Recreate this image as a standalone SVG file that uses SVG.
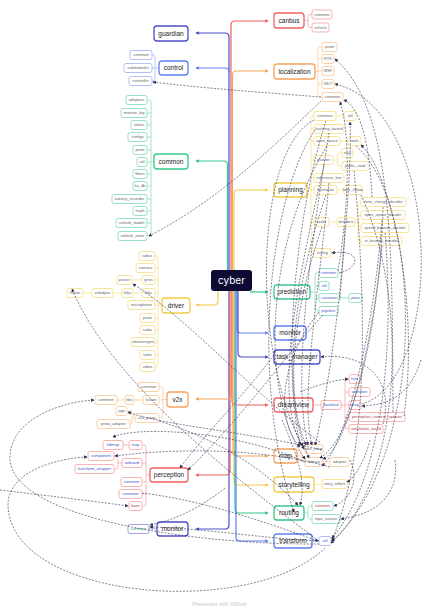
<svg xmlns="http://www.w3.org/2000/svg" width="437" height="612" viewBox="0 0 437 612">
<defs>
<style>
.mb{fill:#fff;stroke-width:1.3}
.cb{fill:#fff;stroke-width:0.8}
.mt{font-family:"Liberation Sans",Arial,sans-serif;font-size:6.5px;fill:#222;text-anchor:middle}
.ct{font-family:"Liberation Sans",Arial,sans-serif;font-size:4px;fill:#666;text-anchor:middle}
.bt{fill:#4455cc}
.rd{stroke:#f26060}.rdl{stroke:#f7a0a0}
.or{stroke:#f8a35c}.orl{stroke:#fbc592}
.ye{stroke:#f4cc48}.yel{stroke:#f7dc80}
.gr{stroke:#34c98a}.grl{stroke:#7fdcb3}
.bl{stroke:#5f7ff5}.bll{stroke:#9db0f8}
.in{stroke:#4e4ec8}.inl{stroke:#8b8bdc}
.tr{fill:none;stroke-width:1.2}
.br{fill:none;stroke-width:0.7}
.d{fill:none;stroke:#2f2f50;stroke-width:0.6;stroke-dasharray:2 1.4;marker-end:url(#ad)}
</style>
<marker id="ad" viewBox="0 0 6 6" refX="5" refY="3" markerWidth="3.5" markerHeight="3.5" orient="auto" markerUnits="userSpaceOnUse"><path d="M0,0 L6,3 L0,6 z" fill="#2f2f50"/></marker>
<marker id="mrd" viewBox="0 0 6 6" refX="5" refY="3" markerWidth="4" markerHeight="4" orient="auto" markerUnits="userSpaceOnUse"><path d="M0,0 L6,3 L0,6 z" fill="#f26060"/></marker>
<marker id="mor" viewBox="0 0 6 6" refX="5" refY="3" markerWidth="4" markerHeight="4" orient="auto" markerUnits="userSpaceOnUse"><path d="M0,0 L6,3 L0,6 z" fill="#f8a35c"/></marker>
<marker id="mye" viewBox="0 0 6 6" refX="5" refY="3" markerWidth="4" markerHeight="4" orient="auto" markerUnits="userSpaceOnUse"><path d="M0,0 L6,3 L0,6 z" fill="#f4cc48"/></marker>
<marker id="mgr" viewBox="0 0 6 6" refX="5" refY="3" markerWidth="4" markerHeight="4" orient="auto" markerUnits="userSpaceOnUse"><path d="M0,0 L6,3 L0,6 z" fill="#34c98a"/></marker>
<marker id="mbl" viewBox="0 0 6 6" refX="5" refY="3" markerWidth="4" markerHeight="4" orient="auto" markerUnits="userSpaceOnUse"><path d="M0,0 L6,3 L0,6 z" fill="#5f7ff5"/></marker>
<marker id="min" viewBox="0 0 6 6" refX="5" refY="3" markerWidth="4" markerHeight="4" orient="auto" markerUnits="userSpaceOnUse"><path d="M0,0 L6,3 L0,6 z" fill="#4e4ec8"/></marker>
</defs>
<rect width="437" height="612" fill="#fff"/>

<g id="trunk">
<path class="tr gr" marker-end="url(#mgr)" d="M227.5 270 V165 Q227.5 161 223.5 161 H196"/>
<path class="tr bl" marker-end="url(#min)" d="M229 270 V37 Q229 33 225 33 H196" style="stroke:#4e4ec8"/>
<path class="tr bl" marker-end="url(#mbl)" d="M229 72 Q229 68 225 68 H196"/>
<path class="tr rd" marker-end="url(#mrd)" d="M231 270 V25 Q231 21 235 21 H268"/>
<path class="tr or" marker-end="url(#mor)" d="M232.5 270 V75 Q232.5 71 236.5 71 H268"/>
<path class="tr ye" marker-end="url(#mye)" d="M234 270 V194 Q234 190 238 190 H268"/>
<path class="tr ye" marker-end="url(#mye)" d="M218 291 V301 Q218 305 214 305 H196"/>
<path class="tr gr" marker-end="url(#mgr)" d="M250 292 H268"/>
<path class="tr in" marker-end="url(#min)" d="M229 291 V525 Q229 529 225 529 H196"/>
<path class="tr rd" marker-end="url(#mrd)" d="M230 291 V471 Q230 475 226 475 H196"/>
<path class="tr or" marker-end="url(#mor)" d="M231 291 V395 Q231 399 227 399 H196"/>
<path class="tr rd" marker-end="url(#mrd)" d="M232 291 V401 Q232 405 236 405 H268"/>
<path class="tr or" marker-end="url(#mor)" d="M233 291 V452 Q233 456 237 456 H268"/>
<path class="tr ye" marker-end="url(#mye)" d="M234 291 V481 Q234 485 238 485 H268"/>
<path class="tr gr" marker-end="url(#mgr)" d="M235 291 V509 Q235 513 239 513 H268"/>
<path class="tr bl" marker-end="url(#mbl)" d="M236 291 V537 Q236 541 240 541 H268"/>
<path class="tr bl" marker-end="url(#mbl)" d="M237 291 V329 Q237 333 241 333 H268"/>
<path class="tr in" marker-end="url(#min)" d="M238 291 V353 Q238 357 242 357 H268"/>
</g>

<g id="cyber"><rect x="211" y="270" width="41" height="21" rx="3" fill="#0d0b33"/><text x="231.5" y="284" font-family="Inter,'Liberation Sans',sans-serif" font-size="10" fill="#fff" text-anchor="middle">cyber</text></g>

<g id="guardian"><rect class="mb in" x="154" y="26" width="34" height="15" rx="3"/><text class="mt" x="171" y="35.8">guardian</text></g>

<g id="control">
<path class="br bll" d="M159 68 H155 M152 55 H153 Q155 55 155 57 V79 Q155 81 153 81 H152 M155 68 H152"/>
<rect class="mb bl" x="159" y="61" width="29" height="14" rx="3"/><text class="mt" x="173.5" y="70.3">control</text>
<rect class="cb bll" x="130" y="50.5" width="22" height="9" rx="2"/><text class="ct" x="141" y="56.4">common</text>
<rect class="cb bll" x="124" y="63.5" width="28" height="9" rx="2"/><text class="ct" x="138" y="69.4">submodules</text>
<rect class="cb bll" x="129" y="76.5" width="23" height="9" rx="2"/><text class="ct" x="140.5" y="82.4">controller</text>
</g>

<g id="common">
<path class="br grl" d="M154 161.5 H151 M147 100 H149 Q151 100 151 102 V234 Q151 236 149 236 H147 M151 113 H147 M151 125 H147 M151 137 H147 M151 150 H147 M151 162 H147 M151 174 H147 M151 186 H147 M151 199 H147 M151 211 H147 M151 223 H147"/>
<rect class="mb gr" x="154" y="154" width="34" height="15" rx="3"/><text class="mt" x="171" y="163.8">common</text>
<rect class="cb grl" x="126" y="95.5" width="21" height="9" rx="2"/><text class="ct" x="136.5" y="101.4">adapters</text>
<rect class="cb grl" x="121" y="108.5" width="26" height="9" rx="2"/><text class="ct" x="134" y="114.4">monitor_log</text>
<rect class="cb grl" x="131" y="120.5" width="16" height="9" rx="2"/><text class="ct" x="139" y="126.4">status</text>
<rect class="cb grl" x="128" y="132.5" width="19" height="9" rx="2"/><text class="ct" x="137.5" y="138.4">configs</text>
<rect class="cb grl" x="133" y="145.5" width="14" height="9" rx="2"/><text class="ct" x="140" y="151.4">proto</text>
<rect class="cb grl" x="137" y="157.5" width="10" height="9" rx="2"/><text class="ct" x="142" y="163.4">util</text>
<rect class="cb grl" x="133" y="169.5" width="14" height="9" rx="2"/><text class="ct" x="140" y="175.4">filters</text>
<rect class="cb grl" x="133" y="181.5" width="14" height="9" rx="2"/><text class="ct" x="140" y="187.4">kv_db</text>
<rect class="cb grl" x="112" y="194.5" width="35" height="9" rx="2"/><text class="ct" x="129.5" y="200.4">latency_recorder</text>
<rect class="cb grl" x="133" y="206.5" width="14" height="9" rx="2"/><text class="ct" x="140" y="212.4">math</text>
<rect class="cb grl" x="116" y="218.5" width="31" height="9" rx="2"/><text class="ct" x="131.5" y="224.4">vehicle_model</text>
<rect class="cb grl" x="118" y="231.5" width="29" height="9" rx="2"/><text class="ct" x="132.5" y="237.4">vehicle_state</text>
</g>

<g id="driver">
<path class="br yel" d="M162 305.5 H158 M155 256 H156 Q158 256 158 258 V365 Q158 367 156 367 H155 M158 268 H155 M158 280 H155 M158 293 H155 M158 305 H155 M158 318 H155 M158 330 H155 M158 342 H155 M158 355 H155 M142 280 H132 M142 293 H133 M122 293 H113 M92 293 H83"/>
<rect class="mb ye" x="162" y="298" width="28" height="15" rx="3"/><text class="mt" x="176" y="307.8">driver</text>
<rect class="cb yel" x="139" y="251.5" width="16" height="9" rx="2"/><text class="ct" x="147" y="257.4">cabus</text>
<rect class="cb yel" x="136" y="263.5" width="19" height="9" rx="2"/><text class="ct" x="145.5" y="269.4">camera</text>
<rect class="cb yel" x="142" y="275.5" width="13" height="9" rx="2"/><text class="ct" x="148.5" y="281.4">gnss</text>
<rect class="cb yel" x="142" y="288.5" width="13" height="9" rx="2"/><text class="ct" x="148.5" y="294.4">lidar</text>
<rect class="cb yel" x="128" y="300.5" width="27" height="9" rx="2"/><text class="ct" x="141.5" y="306.4">microphone</text>
<rect class="cb yel" x="140" y="313.5" width="15" height="9" rx="2"/><text class="ct" x="147.5" y="319.4">proto</text>
<rect class="cb yel" x="140" y="325.5" width="15" height="9" rx="2"/><text class="ct" x="147.5" y="331.4">radar</text>
<rect class="cb yel" x="131" y="337.5" width="24" height="9" rx="2"/><text class="ct" x="143" y="343.4">smartereyes</text>
<rect class="cb yel" x="140" y="350.5" width="15" height="9" rx="2"/><text class="ct" x="147.5" y="356.4">tools</text>
<rect class="cb yel" x="140" y="362.5" width="15" height="9" rx="2"/><text class="ct" x="147.5" y="368.4">video</text>
<rect class="cb yel" x="117" y="275.5" width="15" height="9" rx="2"/><text class="ct" x="124.5" y="281.4">parser</text>
<rect class="cb yel" x="122" y="288.5" width="11" height="9" rx="2"/><text class="ct" x="127.5" y="294.4">lidar</text>
<rect class="cb yel" x="92" y="288.5" width="21" height="9" rx="2"/><text class="ct" x="102.5" y="294.4">velodyne</text>
<rect class="cb yel" x="67" y="288.5" width="16" height="9" rx="2"/><text class="ct" x="75" y="294.4">fusion</text>
</g>

<g id="v2x">
<path class="br orl" d="M167 399.5 H163 M159 387 H161 Q163 387 163 389 V416 Q163 418 161 418 H159 M163 400 H159 M143 400 H134 M125 400 H117 M135 418 H132 M130 411 H130 Q132 411 132 413 V422 Q132 424 130 424 M132 411 H127"/>
<rect class="mb or" x="167" y="392" width="21" height="15" rx="3"/><text class="mt" x="177.5" y="401.8">v2x</text>
<rect class="cb orl" x="138" y="382.5" width="21" height="9" rx="2"/><text class="ct" x="148.5" y="388.4">common</text>
<rect class="cb orl" x="143" y="395.5" width="16" height="9" rx="2"/><text class="ct" x="151" y="401.4">fusion</text>
<rect class="cb orl" x="135" y="413.5" width="24" height="9" rx="2"/><text class="ct" x="147" y="419.4">v2x_proxy</text>
<rect class="cb orl" x="125" y="395.5" width="9" height="9" rx="2"/><text class="ct" x="129.5" y="401.4">libs</text>
<rect class="cb orl" x="95" y="395.5" width="22" height="9" rx="2"/><text class="ct" x="106" y="401.4">common</text>
<rect class="cb orl" x="116" y="406.5" width="11" height="9" rx="2"/><text class="ct" x="121.5" y="412.4">app</text>
<rect class="cb orl" x="97" y="419.5" width="33" height="9" rx="2"/><text class="ct" x="113.5" y="425.4">proto_adapter</text>
</g>

<g id="perception">
<path class="br rdl" d="M150 475 H146 M142 445 H144 Q146 445 146 447 V504 Q146 506 144 506 H142 M146 463 H142 M146 482 H142 M146 494 H142 M129 445 H123 M122 463 H118 M114 456 H116 Q118 456 118 458 V467 Q118 469 116 469 H114"/>
<rect class="mb rd" x="150" y="468" width="38" height="14" rx="3"/><text class="mt" x="169" y="477.3">perception</text>
<rect class="cb rdl" x="129" y="440.5" width="13" height="9" rx="2"/><text class="ct bt" x="135.5" y="446.4">map</text>
<rect class="cb rdl" x="103" y="440.5" width="20" height="9" rx="2"/><text class="ct bt" x="113" y="446.4">hdmap</text>
<rect class="cb rdl" x="122" y="458.5" width="20" height="9" rx="2"/><text class="ct bt" x="132" y="464.4">onboard</text>
<rect class="cb rdl" x="88" y="451.5" width="26" height="9" rx="2"/><text class="ct bt" x="101" y="457.4">component</text>
<rect class="cb rdl" x="75" y="464.5" width="39" height="9" rx="2"/><text class="ct bt" x="94.5" y="470.4">transform_wrapper</text>
<rect class="cb rdl" x="121" y="477.5" width="21" height="9" rx="2"/><text class="ct bt" x="131.5" y="483.4">common</text>
<rect class="cb rdl" x="119" y="489.5" width="23" height="9" rx="2"/><text class="ct bt" x="130.5" y="495.4">container</text>
<rect class="cb rdl" x="129" y="501.5" width="13" height="9" rx="2"/><text class="ct" x="135.5" y="507.4" style="fill:#b04040">base</text>
</g>

<g id="monitor_left">
<path class="br inl" d="M157 529 H149"/>
<rect class="mb in" x="157" y="522" width="31" height="14" rx="3"/><text class="mt" x="172.5" y="531.3">monitor</text>
<rect class="cb inl" x="128" y="524.5" width="21" height="9" rx="2"/><text class="ct" x="138.5" y="530.4" style="fill:#2ea86f">common</text>
</g>

<g id="canbus">
<path class="br rdl" d="M304 20.5 H308 M312 14.5 H310 Q308 14.5 308 16.5 V25.5 Q308 27.5 310 27.5 H312"/>
<rect class="mb rd" x="274" y="13" width="30" height="15" rx="3"/><text class="mt" x="289" y="22.8">canbus</text>
<rect class="cb rdl" x="312" y="10" width="20" height="9" rx="2"/><text class="ct" x="322" y="15.9">common</text>
<rect class="cb rdl" x="312" y="23" width="17" height="9" rx="2"/><text class="ct" x="320.5" y="28.9">vehicle</text>
</g>

<g id="localization">
<path class="br orl" d="M315 71.5 H318 M322 47 H320 Q318 47 318 49 V95 Q318 97 320 97 H322 M318 59 H322 M318 71 H322 M318 84 H322"/>
<rect class="mb or" x="274" y="64" width="41" height="15" rx="3"/><text class="mt" x="294.5" y="73.8">localization</text>
<rect class="cb orl" x="322" y="42.5" width="15" height="9" rx="2"/><text class="ct" x="329.5" y="48.4">proto</text>
<rect class="cb orl" x="322" y="54.5" width="12" height="9" rx="2"/><text class="ct" x="328" y="60.4">RTK</text>
<rect class="cb orl" x="322" y="66.5" width="12" height="9" rx="2"/><text class="ct" x="328" y="72.4">MSF</text>
<rect class="cb orl" x="322" y="79.5" width="12" height="9" rx="2"/><text class="ct" x="328" y="85.4">NDT</text>
<rect class="cb orl" x="322" y="92.5" width="21" height="9" rx="2"/><text class="ct" x="332.5" y="98.4">common</text>
</g>

<g id="planning">
<path class="br yel" d="M307 190 H311 M314 116 H313 Q311 116 311 118 V251 Q311 253 313 253 H314 M311 129 H314 M311 141 H314 M311 160 H314 M311 178 H314 M311 190 H314 M311 222 H314 M336 116 H344 M340 141 H348 M333 160 H337.5 M342 153 H339.5 Q337.5 153 337.5 155 V164 Q337.5 166 339.5 166 H342 M337 190 H344 M329 222 H337 M355 222 H358 M361 202 H360 Q358 202 358 204 V239 Q358 241 360 241 H361 M358 215 H361 M358 228 H361"/>
<rect class="mb ye" x="274" y="183" width="33" height="14" rx="3"/><text class="mt" x="290.5" y="192.3">planning</text>
<rect class="cb yel" x="314" y="111.5" width="22" height="9" rx="2"/><text class="ct" x="325" y="117.4">common</text>
<rect class="cb yel" x="344" y="111.5" width="12" height="9" rx="2"/><text class="ct" x="350" y="117.4">util</text>
<rect class="cb yel" x="314" y="124.5" width="30" height="9" rx="2"/><text class="ct" x="329" y="130.4">learning_based</text>
<rect class="cb yel" x="314" y="136.5" width="26" height="9" rx="2"/><text class="ct" x="327" y="142.4">open_space</text>
<rect class="cb yel" x="348" y="136.5" width="13" height="9" rx="2"/><text class="ct" x="354.5" y="142.4">tools</text>
<rect class="cb yel" x="314" y="155.5" width="19" height="9" rx="2"/><text class="ct" x="323.5" y="161.4">planner</text>
<rect class="cb yel" x="342" y="148.5" width="11" height="9" rx="2"/><text class="ct" x="347.5" y="154.4">navi</text>
<rect class="cb yel" x="342" y="161.5" width="26" height="9" rx="2"/><text class="ct" x="355" y="167.4">public_road</text>
<rect class="cb yel" x="314" y="173.5" width="30" height="9" rx="2"/><text class="ct" x="329" y="179.4">reference_line</text>
<rect class="cb yel" x="314" y="185.5" width="23" height="9" rx="2"/><text class="ct" x="325.5" y="191.4">scenarios</text>
<rect class="cb yel" x="344" y="185.5" width="18" height="9" rx="2"/><text class="ct" x="353" y="191.4">lane_follow</text>
<rect class="cb yel" x="314" y="217.5" width="15" height="9" rx="2"/><text class="ct" x="321.5" y="223.4">tasks</text>
<rect class="cb yel" x="337" y="217.5" width="18" height="9" rx="2"/><text class="ct" x="346" y="223.4">deciders</text>
<rect class="cb yel" x="361" y="197.5" width="45" height="9" rx="2"/><text class="ct" x="383.5" y="203.4">lane_change_decider</text>
<rect class="cb yel" x="361" y="210.5" width="44" height="9" rx="2"/><text class="ct" x="383" y="216.4">open_space_decider</text>
<rect class="cb yel" x="361" y="223.5" width="48" height="9" rx="2"/><text class="ct" x="385" y="229.4">speed_bounds_decider</text>
<rect class="cb yel" x="361" y="236.5" width="41" height="9" rx="2"/><text class="ct" x="381.5" y="242.4">st_bounds_decider</text>
<rect class="cb yel" x="314" y="248.5" width="17" height="9" rx="2"/><text class="ct" x="322.5" y="254.4">tuning</text>
</g>

<g id="prediction">
<path class="br grl" d="M310 292 H315 M319 273 H317 Q315 273 315 275 V309 Q315 311 317 311 H319 M315 286 H319 M315 298 H319 M340 298 H349"/>
<rect class="mb gr" x="274" y="285" width="36" height="14" rx="3"/><text class="mt" x="292" y="294.3">prediction</text>
<rect class="cb grl" x="319" y="268.5" width="19" height="9" rx="2"/><text class="ct bt" x="328.5" y="274.4">common</text>
<rect class="cb grl" x="319" y="281.5" width="10" height="9" rx="2"/><text class="ct bt" x="324" y="287.4">util</text>
<rect class="cb grl" x="319" y="293.5" width="21" height="9" rx="2"/><text class="ct bt" x="329.5" y="299.4">container</text>
<rect class="cb grl" x="349" y="293.5" width="13" height="9" rx="2"/><text class="ct bt" x="355.5" y="299.4">pose</text>
<rect class="cb grl" x="319" y="306.5" width="19" height="9" rx="2"/><text class="ct bt" x="328.5" y="312.4">pipeline</text>
</g>

<g id="monitor_right"><rect class="mb bl" x="274" y="326" width="32" height="14" rx="3"/><text class="mt" x="290" y="335.3">monitor</text></g>
<g id="task_manager"><rect class="mb in" x="274" y="350" width="46" height="14" rx="3"/><text class="mt" x="297" y="359.3">task_manager</text></g>

<g id="dreamview">
<path class="br rdl" d="M313 405 H321 M341 405 H345 M349 379 H347 Q345 379 345 381 V427 Q345 429 347 429 H349 M345 392 H349 M345 405 H349 M345 417 H349"/>
<rect class="mb rd" x="274" y="398" width="39" height="14" rx="3"/><text class="mt" x="293.5" y="407.3">dreamview</text>
<rect class="cb rdl" x="321" y="400.5" width="20" height="9" rx="2"/><text class="ct bt" x="331" y="406.4">backend</text>
<rect class="cb rdl" x="349" y="374.5" width="11" height="9" rx="2"/><text class="ct bt" x="354.5" y="380.4">hmi</text>
<rect class="cb rdl" x="349" y="387.5" width="21" height="9" rx="2"/><text class="ct bt" x="359.5" y="393.4">common</text>
<rect class="cb rdl" x="349" y="400.5" width="12" height="9" rx="2"/><text class="ct bt" x="355" y="406.4">map</text>
<rect class="cb rdl" x="349" y="412.5" width="56" height="9" rx="2"/><text class="ct" x="377" y="418.4" style="fill:#b04040">perception_camera_updater</text>
<rect class="cb rdl" x="349" y="424.5" width="34" height="9" rx="2"/><text class="ct" x="366" y="430.4" style="fill:#b04040">simulation_world</text>
</g>

<g id="map">
<path class="br orl" d="M297 456 H301 M305 449 H303 Q301 449 301 451 V460 Q301 462 303 462 H305 M322 462 H330"/>
<rect class="mb or" x="274" y="449" width="23" height="14" rx="3"/><text class="mt" x="285.5" y="458.3">map</text>
<rect class="cb orl" x="305" y="444.5" width="18" height="9" rx="2"/><text class="ct" x="314" y="450.4">pnc_map</text>
<rect class="cb orl" x="305" y="457.5" width="17" height="9" rx="2"/><text class="ct" x="313.5" y="463.4">hdmap</text>
<rect class="cb orl" x="330" y="457.5" width="19" height="9" rx="2"/><text class="ct" x="339.5" y="463.4">adapter</text>
</g>

<g id="storytelling">
<path class="br yel" d="M314 484.5 H322"/>
<rect class="mb ye" x="274" y="477" width="40" height="15" rx="3"/><text class="mt" x="294" y="486.8">storytelling</text>
<rect class="cb yel" x="322" y="479.5" width="25" height="9" rx="2"/><text class="ct" x="334.5" y="485.4">story_tellers</text>
</g>

<g id="routing">
<path class="br grl" d="M304 513 H308 M312 506 H310 Q308 506 308 508 V517 Q308 519 310 519 H312"/>
<rect class="mb gr" x="274" y="506" width="30" height="14" rx="3"/><text class="mt" x="289" y="515.3">routing</text>
<rect class="cb grl" x="312" y="501.5" width="21" height="9" rx="2"/><text class="ct" x="322.5" y="507.4" style="fill:#c04040">common</text>
<rect class="cb grl" x="312" y="514.5" width="28" height="9" rx="2"/><text class="ct" x="326" y="520.4">topo_creator</text>
</g>

<g id="transform">
<path class="br bll" d="M312 541 H319"/>
<rect class="mb bl" x="274" y="534" width="38" height="14" rx="3"/><text class="mt" x="293" y="543.3">transform</text>
<rect class="cb bll" x="319" y="536.5" width="12" height="9" rx="2"/><text class="ct bt" x="325" y="542.4">util</text>
</g>

<g id="connectors">
<path class="d" d="M321 97 C270 93 200 88 153 82"/>
<path class="d" d="M321 101 C280 140 220 200 149 236"/>
<path class="d" d="M393 412 C392 260 395 110 335 59"/>
<path class="d" d="M362 404 C445 380 445 110 335 84"/>
<path class="d" d="M372 197 C370 150 362 108 344 100"/>
<path class="d" d="M339 273 C362 268 360 248 332 253"/>
<path class="d" d="M320 442 C260 400 190 320 133 284"/>
<path class="d" d="M319 541 C230 475 110 380 72 289"/>
<path class="d" d="M325 548 C250 620 10 600 8 505 C8 470 60 458 87 457"/>
<path class="d" d="M319 544 C200 545 15 520 10 460 C8 420 60 402 94 400"/>
<path class="d" d="M305 462 C240 432 140 425 113 437"/>
<path class="d" d="M330 467 C250 445 160 450 115 456"/>
<path class="d" d="M322 450 C250 432 160 425 128 412"/>
<path class="d" d="M159 421 C220 440 265 470 298 505"/>
<path class="d" d="M282 420 C300 460 306 485 300 505"/>
<path class="d" d="M318 541 C260 538 200 528 150 527"/>
<path class="d" d="M225 488 C200 508 175 520 150 525"/>
<path class="d" d="M0 490 C50 496 100 502 128 506"/>
<path class="d" d="M142 493 C200 500 260 520 318 541"/>
<path class="d" d="M323 315 C290 350 240 420 188 470"/>
<path class="d" d="M326 121 C300 200 280 350 300 445"/>
<path class="d" d="M329 133 C310 250 292 380 308 445"/>
<path class="d" d="M327 146 C262 250 262 400 305 459"/>
<path class="d" d="M324 165 C298 280 272 400 303 446"/>
<path class="d" d="M329 183 C318 300 300 400 312 445"/>
<path class="d" d="M326 195 C290 300 282 400 309 458"/>
<path class="d" d="M322 227 C290 320 286 400 306 445"/>
<path class="d" d="M345 227 C340 320 322 420 315 445"/>
<path class="d" d="M383 207 C380 330 352 440 320 458"/>
<path class="d" d="M382 220 C372 350 342 450 322 466"/>
<path class="d" d="M385 233 C395 350 382 480 332 538"/>
<path class="d" d="M382 246 C372 350 346 450 323 459"/>
<path class="d" d="M354 171 C366 300 370 450 332 540"/>
<path class="d" d="M361 195 C410 300 402 480 332 541"/>
<path class="d" d="M356 146 C420 200 432 450 331 543"/>
<path class="d" d="M340 298 C346 220 352 160 350 122"/>
<path class="d" d="M404 416 C420 300 390 170 361 145"/>
<path class="d" d="M421 360 C410 395 390 405 362 406"/>
<path class="d" d="M300 392 C318 385 334 380 348 379"/>
<path class="d" d="M383 424 C395 380 365 352 321 357"/>
<path class="d" d="M350 460 C360 480 350 500 334 506"/>
<path class="d" d="M395 460 C400 500 370 515 341 519"/>
<path class="d" d="M370 440 C365 460 355 478 347 482"/>
<path class="d" d="M314 120 C255 150 250 350 304 449"/>
<path class="d" d="M315 130 C268 200 250 380 294 512"/>
<path class="d" d="M319 312 C280 360 275 420 300 447"/>
<path class="d" d="M338 271 C350 200 350 130 340 102"/>
<path class="d" d="M274 355 C240 400 200 440 180 468"/>
</g>

<text x="219" y="606" font-family="'Liberation Sans',Arial,sans-serif" font-size="5.5" fill="#c8c8c8" text-anchor="middle">Presented with XMind</text>
</svg>
